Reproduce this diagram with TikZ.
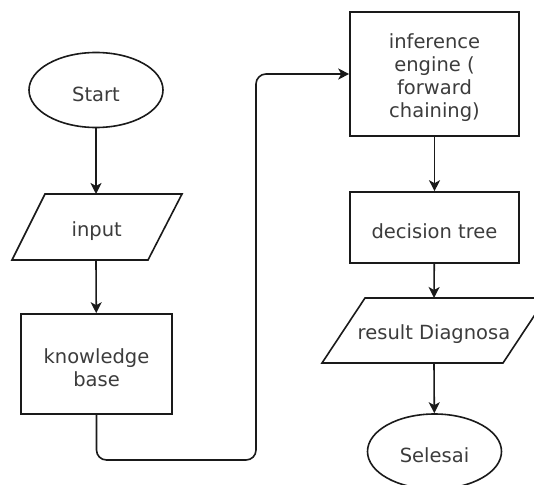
\documentclass[tikz,border=0pt]{standalone}
\usepackage{fontspec}
\setmainfont{DejaVu Sans}
\usetikzlibrary{arrows.meta,shapes.geometric}
\definecolor{linecol}{HTML}{1A1A1A}
\definecolor{txtgray}{HTML}{3C3C3C}
\begin{document}
\begin{tikzpicture}[x=1pt,y=-1pt,
  lbl/.style={font=\fontsize{19.5}{23}\selectfont, text=txtgray, align=center, inner sep=0pt, yshift=-4pt},
  shapeline/.style={draw=linecol, line width=1.6pt},
  box/.style={shapeline, rectangle, inner sep=0pt},
  term/.style={shapeline, ellipse, inner sep=0pt, minimum width=134pt, minimum height=75pt},
  flow/.style={shapeline, -{Stealth[length=11pt,width=11pt,inset=3pt]}}]
\useasboundingbox[fill=white] (0,0) rectangle (534,484);

% left column
\node[term] (start) at (96,90) {};
\coordinate (in-top) at (96,194);
\coordinate (in-bot) at (96,260);
\draw[shapeline] (45,194) -- (182,194) -- (148,260) -- (12,260) -- cycle;
\node[box, minimum width=151pt, minimum height=100pt] (kb) at (96.5,364) {};

% right column
\node[box, minimum width=169pt, minimum height=124pt] (inf) at (434.5,74) {};
\node[box, minimum width=169pt, minimum height=71pt] (dt) at (434.5,227.5) {};
\coordinate (res-top) at (434,298);
\coordinate (res-bot) at (434,363);
\draw[shapeline] (365,298) -- (546,298) -- (503,363) -- (322,363) -- cycle;
\node[term] (end) at (434.5,451.5) {};

% labels
\node[lbl] (start-t) at (start) {Start};
\node[lbl] (in-t) at (96.75,227) {input};
\node[lbl] (kb-t) at (kb) {knowledge\\base};
\node[lbl] (inf-t) at (inf) {inference\\engine (\\forward\\chaining)};
\node[lbl] (dt-t) at (dt) {decision tree};
\node[lbl] (res-t) at (434,330.5) {result Diagnosa};
\node[lbl] (end-t) at (end) {Selesai};

% connectors
\coordinate (bend) at (256,460);
\draw[flow] (start) -- (in-top);
\draw[flow] (in-bot) -- (kb);
\draw[flow, rounded corners=10pt] (kb.south) |- (bend) |- (inf.west);
\draw[flow] (inf) -- (dt);
\draw[flow] (dt) -- (res-top);
\draw[flow] (res-bot) -- (end);
\end{tikzpicture}
\end{document}
